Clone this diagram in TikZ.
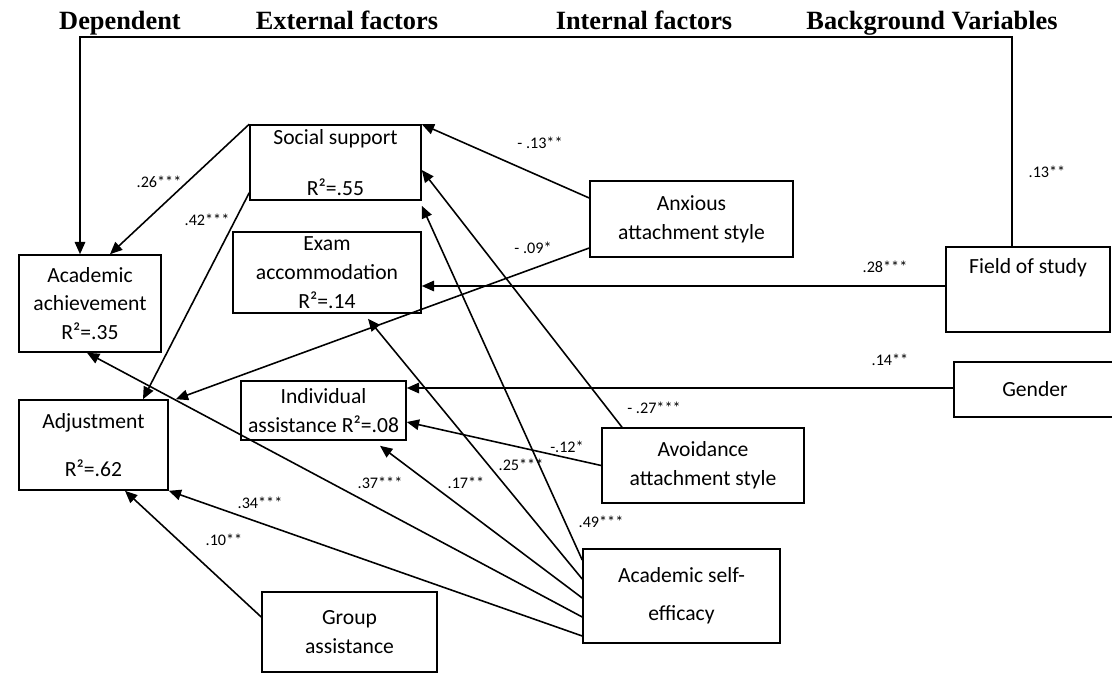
\documentclass[tikz,border=0pt]{standalone}
\usepackage{fontspec}
\setmainfont{Carlito}
\newfontfamily\headfont{Liberation Serif}
\usetikzlibrary{arrows.meta}

\begin{document}
\begin{tikzpicture}[
  x=0.02cm, y=-0.02cm,
  factor/.style={rectangle, draw, line width=0.9pt, align=center, inner sep=0pt,
    font=\fontsize{12.3}{16.4}\selectfont},
  heading/.style={anchor=base, font=\headfont\bfseries\fontsize{15}{18}\selectfont},
  coef/.style={inner sep=0pt, font=\fontsize{9.2}{11}\selectfont},
  connection/.style={-{Triangle[length=7pt,width=6pt]}, line width=0.9pt}
]
  \useasboundingbox (0,0) rectangle (1112,687);

  % Headings
  \node[heading] (hdep) at (120,29) {Dependent};
  \node[heading] (hext) at (347,29) {External factors};
  \node[heading] (hint) at (644,29) {Internal factors};
  \node[heading] (hbg) at (932,29) {Background Variables};

  % Dependent variables
  \node[factor, minimum width=2.84cm, minimum height=1.94cm] (ach) at (90,303.5) {Academic\\achievement\\R²=.35};
  \node[factor, minimum width=2.98cm, minimum height=1.8cm] (adj) at (93.5,445) {Adjustment\\[11pt]R²=.62};

  % External factors
  \node[factor, minimum width=3.42cm, minimum height=1.5cm] (soc) at (335.5,162.5) {Social support\\[13pt]R²=.55};
  \node[factor, minimum width=3.76cm, minimum height=1.62cm] (exam) at (327,272.5) {Exam\\accommodation\\R²=.14};
  \node[factor, minimum width=3.3cm, minimum height=1.18cm] (ind) at (323.5,410.5) {Individual\\assistance R²=.08};
  \node[factor, minimum width=3.5cm, minimum height=1.6cm] (grp) at (349.5,632) {Group\\assistance};

  % Internal factors
  \node[factor, minimum width=4.06cm, minimum height=1.52cm] (anx) at (691.5,219) {Anxious\\attachment style};
  \node[factor, minimum width=4.04cm, minimum height=1.5cm] (avo) at (703,465.5) {Avoidance\\attachment style};
  \node[factor, minimum width=3.94cm, minimum height=1.88cm] (eff) at (681.5,596) {Academic self-\\[5pt]efficacy};

  % Background variables
  \node[factor, minimum width=3.28cm, minimum height=1.7cm] (fos) at (1028,289.5) {Field of study\\[5.5pt]\strut};
  \node[factor, minimum width=3.24cm, minimum height=1.1cm] (gen) at (1035,389.5) {Gender};

  % Arrow ends
  \coordinate (socin) at ([yshift=-0.1cm]soc.south east);
  \coordinate (examin) at ([xshift=0.82cm,yshift=-0.1cm]exam.south);
  \coordinate (indin) at ([xshift=1.13cm,yshift=-0.1cm]ind.south);
  \coordinate (achin) at ([xshift=-0.06cm]ach.south);
  \coordinate (adjin) at (adj.south east);

  % Paths
  \draw[connection] ([xshift=-0.32cm]fos.north) -- ++(0,-209) -| ([xshift=-0.2cm]ach.north);
  \draw[connection] (soc.north west) -- ([xshift=0.4cm]ach.north);
  \draw[connection] ([yshift=0.16cm]soc.south west) -- ([xshift=0.99cm]adj.north);
  \draw[connection] ([yshift=0.42cm]anx.west) -- (soc.north east);
  \draw[connection] ([yshift=-0.58cm]anx.west) -- ([xshift=0.14cm]adj.north east);
  \draw[connection] ([yshift=0.07cm]fos.west) -- ([yshift=0.07cm]fos.west -| exam.east);
  \draw[connection] ([yshift=0.03cm]gen.west) -- ([yshift=0.03cm]gen.west -| ind.east);
  \draw[connection] ([xshift=-1.62cm]avo.north) -- ([yshift=-0.15cm]soc.east);
  \draw[connection] (avo.west) -- ([yshift=-0.23cm]ind.east);
  \draw[connection] ([yshift=0.3cm]grp.west) -- ([xshift=0.63cm]adj.south);
  \foreach \dy/\t in {0.72/socin, 0.34/examin, -0.04/indin, -0.42/achin, -0.8/adjin}
    \draw[connection] ([yshift=\dy cm]eff.west) -- (\t);

  % Coefficients
  \node[coef] (c13a) at (1047,172) {.13**};
  \node[coef] (c26) at (159,182) {.26***};
  \node[coef] (c42) at (207,220) {.42***};
  \node[coef] (c13b) at (540,143) {- .13**};
  \node[coef] (c09) at (533,248) {- .09*};
  \node[coef] (c28) at (885,267) {.28***};
  \node[coef] (c14) at (890,360) {.14**};
  \node[coef] (c27) at (654,408) {- .27***};
  \node[coef] (c12) at (567,447) {-.12*};
  \node[coef] (c49) at (601,522) {.49***};
  \node[coef] (c25) at (521,465) {.25***};
  \node[coef] (c17) at (466,483) {.17**};
  \node[coef] (c37) at (380,483) {.37***};
  \node[coef] (c34) at (260,503) {.34***};
  \node[coef] (c10) at (224,540) {.10**};
\end{tikzpicture}
\end{document}
